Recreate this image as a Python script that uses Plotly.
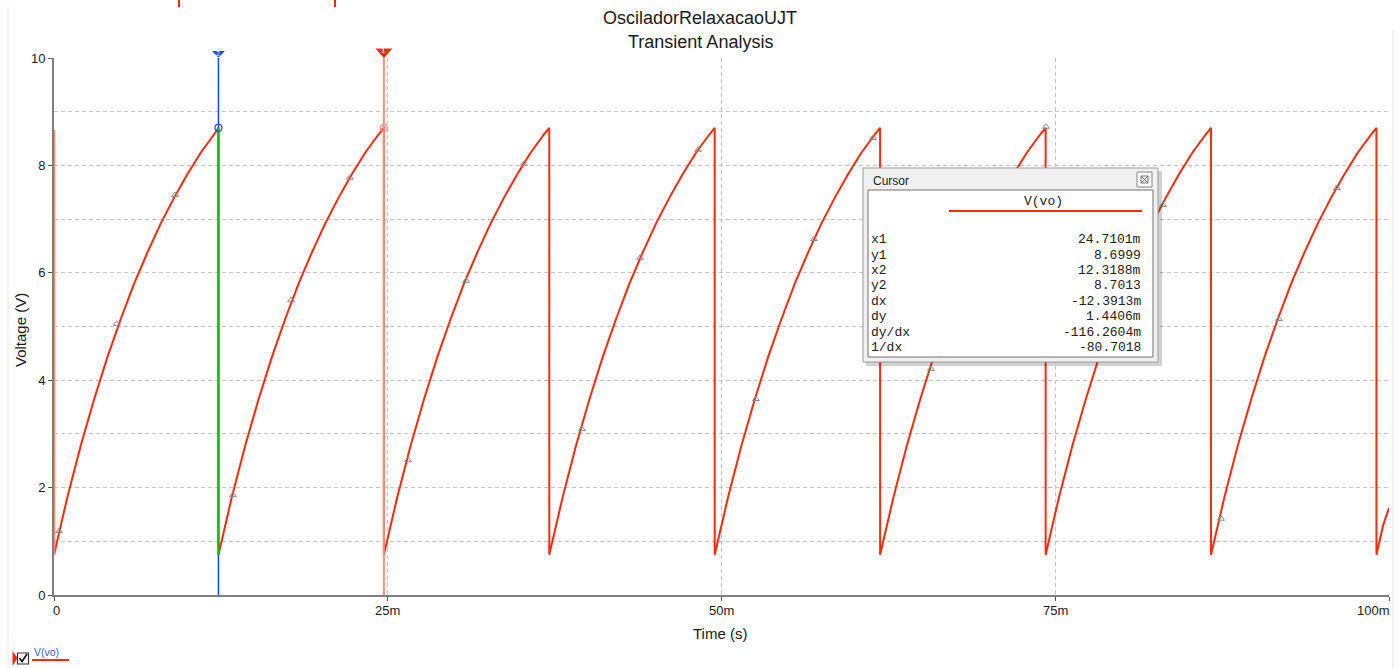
import plotly.graph_objects as go

# ---- data -------------------------------------------------------------
# One charging ramp of V(vo): time since the last discharge (ms) -> volts
ramp_dt_ms = [0, 0.5, 1, 2, 3, 4, 5, 6, 7, 8, 9, 10, 11, 12, 12.39]
ramp_v = [0.75, 1.30, 1.82, 2.78, 3.64, 4.43, 5.14, 5.80, 6.38, 6.92, 7.40, 7.84, 8.24, 8.58, 8.70]
# instants at which the UJT fires and the capacitor discharges (ms)
reset_ms = [12.3188, 24.7101, 37.10, 49.49, 61.88, 74.28, 86.67, 99.06]
peak_v = 8.70
valley_v = 0.75
t_end_ms = 100.0
v_end = 1.62
# initial step drawn on the voltage axis at t = 0
start_step_v = [8.66, 0.75]

# simulation data-point markers on the trace
marker_t_ms = [0.37, 4.70, 9.06, 13.41, 17.75, 22.17, 26.52, 30.86, 35.20,
               39.55, 43.90, 48.24, 52.58, 56.93, 61.35, 65.69, 70.04, 74.31,
               78.70, 83.07, 87.42, 91.76, 96.10]
marker_v = [1.19, 5.05, 7.45, 1.86, 5.49, 7.77, 2.51, 5.85, 8.03,
            3.09, 6.28, 8.29, 3.65, 6.63, 8.51, 4.21, 6.90, 8.72,
            4.70, 7.26, 1.42, 5.14, 7.58]

# cursors
cursor1_ms, cursor1_v = 24.7101, 8.6999
cursor2_ms, cursor2_v = 12.3188, 8.7013

# cursor read-out table
cursor_labels = ["x1", "y1", "x2", "y2", "dx", "dy", "dy/dx", "1/dx"]
cursor_values = ["24.7101m", "8.6999", "12.3188m", "8.7013",
                 "-12.3913m", "1.4406m", "-116.2604m", "-80.7018"]

x_tickvals_ms = [0, 25, 50, 75, 100]
x_ticktext = ["0", "25m", "50m", "75m", "100m"]
y_tickvals = [0, 2, 4, 6, 8, 10]

# ---- build the sawtooth from the ramp readings ------------------------
t_ms, v = [], []
starts = [0.0] + reset_ms
ends = reset_ms + [t_end_ms]
for s, e in zip(starts, ends):
    for dt, val in zip(ramp_dt_ms, ramp_v):
        if s + dt < e:
            t_ms.append(s + dt)
            v.append(val)
    if e in reset_ms:
        t_ms += [e, e]
        v += [peak_v, valley_v]
    else:
        t_ms.append(e)
        v.append(v_end)

t_s = [x / 1000 for x in t_ms]

RED = "#ff2a0a"
SALMON = "#ff8c7c"
BLUE = "#1a44ff"
GREEN = "#00c800"

X_MAX_S = 0.1
Y_MAX = 10

fig = go.Figure()

# trace V(vo)
fig.add_trace(go.Scatter(x=t_s, y=v, mode="lines",
                         line=dict(color=RED, width=2), hoverinfo="skip"))
# initial step on the axis
fig.add_trace(go.Scatter(x=[0, 0], y=start_step_v, mode="lines",
                         line=dict(color=SALMON, width=2.5), hoverinfo="skip"))
# data-point markers
fig.add_trace(go.Scatter(x=[m / 1000 for m in marker_t_ms], y=marker_v, mode="markers",
                         marker=dict(symbol="triangle-up-open", size=6,
                                     color="#8a8a8a", line=dict(width=1, color="#8a8a8a")),
                         hoverinfo="skip"))

# cursor 2 (blue) and the highlighted discharge edge it sits on
fig.add_trace(go.Scatter(x=[cursor2_ms / 1000] * 2, y=[0, Y_MAX], mode="lines",
                         line=dict(color=BLUE, width=1.5), hoverinfo="skip"))
fig.add_trace(go.Scatter(x=[cursor2_ms / 1000] * 2, y=[cursor2_v, valley_v], mode="lines",
                         line=dict(color=GREEN, width=2), hoverinfo="skip"))
# cursor 1 (red)
fig.add_trace(go.Scatter(x=[cursor1_ms / 1000] * 2, y=[0, Y_MAX], mode="lines",
                         line=dict(color=SALMON, width=2), hoverinfo="skip"))

# cursor intersection circles
fig.add_trace(go.Scatter(x=[cursor2_ms / 1000], y=[cursor2_v], mode="markers",
                         marker=dict(symbol="circle-open", size=7, color=BLUE,
                                     line=dict(width=1.2, color=BLUE)), hoverinfo="skip"))
fig.add_trace(go.Scatter(x=[cursor1_ms / 1000], y=[cursor1_v], mode="markers",
                         marker=dict(symbol="circle-open", size=7, color=SALMON,
                                     line=dict(width=1.2, color=SALMON)), hoverinfo="skip"))


# ---- layout helpers (pixel -> paper) ----------------------------------
L, R, T, B = 54, 1389, 58, 595
PW = R - L


def px(x):
    return (x - L) / PW


def py(y):
    return (B - y) / (B - T)


shapes = []
annotations = []

# cursor handles above the plot (x follows the cursor time on the axis scale)
for c_ms, col, half_w, top, bot, label, fsize in (
        (cursor2_ms, BLUE, 6.5, 51, 57.5, "2", 7),
        (cursor1_ms, RED, 8.5, 48.5, 58, "1", 8)):
    xc = c_ms / 1000 / X_MAX_S
    dx = half_w / PW
    shapes.append(dict(type="path", xref="paper", yref="paper", layer="above",
                       path=f"M {xc - dx},{py(top)} L {xc + dx},{py(top)} L {xc},{py(bot)} Z",
                       fillcolor=col, line=dict(color=col, width=0)))
    annotations.append(dict(text=label, xref="paper", yref="paper", x=xc, y=py(top + 2.2),
                            xanchor="center", yanchor="middle", showarrow=False,
                            font=dict(family="Liberation Sans", size=fsize, color="white")))

# window frame lines and top edge marks
shapes.append(dict(type="line", xref="paper", yref="paper", x0=px(8), x1=px(8),
                   y0=py(7), y1=py(668), line=dict(color="#e6e6e6", width=1)))
shapes.append(dict(type="line", xref="paper", yref="paper", x0=px(1393), x1=px(1393),
                   y0=py(30), y1=py(668), line=dict(color="#e6e6e6", width=1)))
for xm in (179, 335):
    shapes.append(dict(type="line", xref="paper", yref="paper", x0=px(xm), x1=px(xm),
                       y0=py(0), y1=py(7), line=dict(color=RED, width=2)))

# cursor read-out window
shapes.append(dict(type="rect", xref="paper", yref="paper", layer="above",
                   x0=px(866), x1=px(1162), y0=py(171), y1=py(366),
                   fillcolor="rgba(0,0,0,0.18)", line=dict(width=0)))
shapes.append(dict(type="rect", xref="paper", yref="paper", layer="above",
                   x0=px(863), x1=px(1158), y0=py(168), y1=py(362),
                   fillcolor="#f0f0f0", line=dict(color="#9a9a9a", width=1)))
shapes.append(dict(type="rect", xref="paper", yref="paper", layer="above",
                   x0=px(868), x1=px(1153), y0=py(190), y1=py(357),
                   fillcolor="rgba(255,255,255,0.94)", line=dict(color="#707070", width=1)))
# close button
shapes.append(dict(type="rect", xref="paper", yref="paper", layer="above",
                   x0=px(1137), x1=px(1152), y0=py(172), y1=py(187),
                   fillcolor="#fafafa", line=dict(color="#8a8a8a", width=1)))
shapes.append(dict(type="rect", xref="paper", yref="paper", layer="above",
                   x0=px(1141), x1=px(1148), y0=py(176), y1=py(183),
                   fillcolor="rgba(0,0,0,0)", line=dict(color="#777777", width=1)))
shapes.append(dict(type="line", xref="paper", yref="paper", layer="above",
                   x0=px(1141), x1=px(1148), y0=py(176), y1=py(183),
                   line=dict(color="#777777", width=1)))
shapes.append(dict(type="line", xref="paper", yref="paper", layer="above",
                   x0=px(1141), x1=px(1148), y0=py(183), y1=py(176),
                   line=dict(color="#777777", width=1)))
# series colour line under the header
shapes.append(dict(type="line", xref="paper", yref="paper", layer="above",
                   x0=px(949), x1=px(1142), y0=py(211), y1=py(211),
                   line=dict(color=RED, width=2)))

MONO = dict(family="Liberation Mono, Courier New", size=13, color="#222")
annotations.append(dict(text="Cursor", xref="paper", yref="paper", x=px(871), y=py(181),
                        xanchor="left", yanchor="middle", showarrow=False,
                        font=dict(family="Liberation Sans, Arial", size=12, color="#222")))
annotations.append(dict(text="V(vo)", xref="paper", yref="paper", x=px(1043), y=py(201),
                        xanchor="center", yanchor="middle", showarrow=False, font=MONO))
for i, (lab, val) in enumerate(zip(cursor_labels, cursor_values)):
    yy = py(239.7 + i * 15.4)
    annotations.append(dict(text=lab, xref="paper", yref="paper", x=px(869), y=yy,
                            xanchor="left", yanchor="middle", showarrow=False, font=MONO))
    annotations.append(dict(text=val, xref="paper", yref="paper", x=px(1143), y=yy,
                            xanchor="right", yanchor="middle", showarrow=False, font=MONO))

# titles
annotations.append(dict(text="OsciladorRelaxacaoUJT", xref="paper", yref="paper",
                        x=px(700), y=py(18), xanchor="center", yanchor="middle", showarrow=False,
                        font=dict(family="Liberation Sans, Arial", size=18, color="#1a1a1a")))
annotations.append(dict(text="Transient Analysis", xref="paper", yref="paper",
                        x=px(700), y=py(42), xanchor="center", yanchor="middle", showarrow=False,
                        font=dict(family="Liberation Sans, Arial", size=18, color="#1a1a1a")))
annotations.append(dict(text="Voltage (V)", xref="paper", yref="paper", textangle=-90,
                        x=px(20), y=py(330), xanchor="center", yanchor="middle", showarrow=False,
                        font=dict(family="Liberation Sans, Arial", size=15, color="#1a1a1a")))
annotations.append(dict(text="Time (s)", xref="paper", yref="paper",
                        x=px(720), y=py(633), xanchor="center", yanchor="middle", showarrow=False,
                        font=dict(family="Liberation Sans, Arial", size=15, color="#1a1a1a")))

tick_font = dict(family="Liberation Sans Narrow, Arial Narrow, Liberation Sans", size=13, color="#1a1a1a")

# time tick labels: the end labels are kept inside the plot width
for i, (tv, tt) in enumerate(zip(x_tickvals_ms, x_ticktext)):
    anchor = "left" if i == 0 else ("right" if i == len(x_tickvals_ms) - 1 else "center")
    shift = -3 if i == 0 else (3 if i == len(x_tickvals_ms) - 1 else 0)
    annotations.append(dict(text=tt, xref="x", yref="paper", x=tv / 1000, y=py(610),
                            xanchor=anchor, yanchor="middle", xshift=shift, showarrow=False,
                            font=tick_font))

# legend entry at bottom-left
shapes.append(dict(type="path", xref="paper", yref="paper",
                   path=f"M {px(12.5)},{py(651)} L {px(17.5)},{py(658)} L {px(12.5)},{py(666)} Z",
                   fillcolor=RED, line=dict(color=RED, width=0)))
shapes.append(dict(type="rect", xref="paper", yref="paper",
                   x0=px(17.5), x1=px(28.5), y0=py(653), y1=py(664),
                   fillcolor="white", line=dict(color="#333333", width=1.2)))
shapes.append(dict(type="path", xref="paper", yref="paper",
                   path=f"M {px(19.5)},{py(658)} L {px(22)},{py(661.5)} L {px(27)},{py(654)}",
                   line=dict(color="#111111", width=1.6)))
shapes.append(dict(type="line", xref="paper", yref="paper",
                   x0=px(32), x1=px(69), y0=py(660), y1=py(660),
                   line=dict(color=RED, width=2)))
annotations.append(dict(text="V(vo)", xref="paper", yref="paper", x=px(32), y=py(652),
                        xanchor="left", yanchor="middle", showarrow=False,
                        font=dict(family="Liberation Sans, Arial", size=10.5, color="#3a5ccc")))

grid_col = "#c4c4c4"

fig.update_layout(
    width=1400, height=668, autosize=False,
    margin=dict(l=L, r=1400 - R, t=T, b=668 - B),
    paper_bgcolor="white", plot_bgcolor="white",
    showlegend=False,
    shapes=shapes, annotations=annotations,
    xaxis=dict(range=[0, X_MAX_S], tickvals=[t / 1000 for t in x_tickvals_ms],
               showticklabels=False,
               showline=True, linecolor="#808080", linewidth=2,
               ticks="outside", ticklen=4, tickcolor="#555", tickwidth=1,
               showgrid=True, gridcolor=grid_col, griddash="4px,3px", gridwidth=1,
               zeroline=False, fixedrange=True),
    yaxis=dict(range=[0, Y_MAX], tickvals=y_tickvals,
               showline=True, linecolor="#808080", linewidth=2,
               ticks="outside", ticklen=4, tickcolor="#555", tickwidth=1,
               showgrid=True, gridcolor=grid_col, griddash="4px,3px", gridwidth=1,
               minor=dict(dtick=1, showgrid=True, gridcolor=grid_col, griddash="4px,3px",
                          gridwidth=1, ticks=""),
               zeroline=False, tickfont=tick_font, fixedrange=True),
)

fig.write_html("out.html")
